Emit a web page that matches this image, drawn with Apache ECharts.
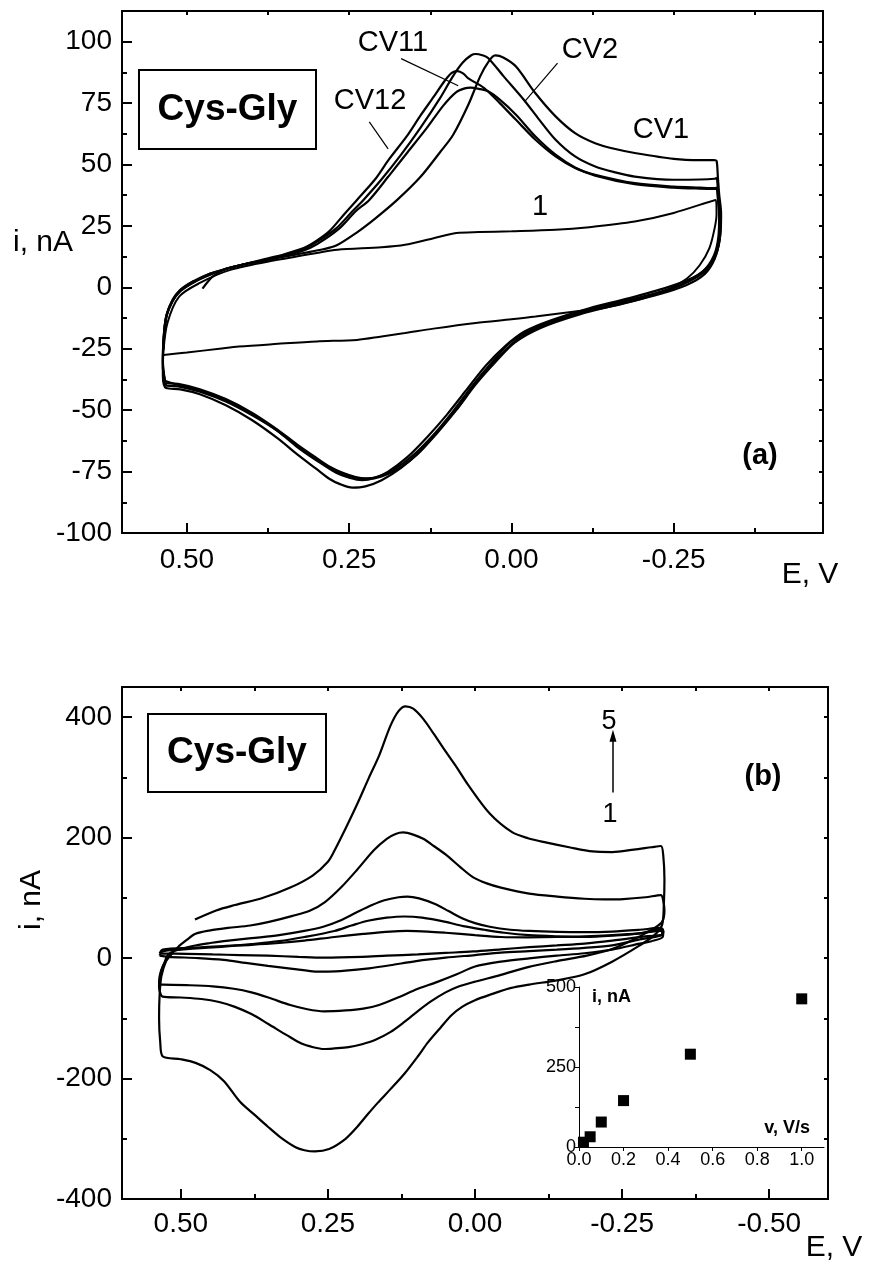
<!DOCTYPE html>
<html><head><meta charset="utf-8">
<script src="https://cdn.jsdelivr.net/npm/echarts@6/dist/echarts.min.js"></script>
<style>html,body{margin:0;padding:0;background:#fff}#c{width:873px;height:1266px}</style>
</head><body><div id="c"></div>
<script>
// ---------- Panel (a) data: [E (V), i (nA)] ----------
const cvA_blank = [[0.536,-27.5],[0.50,-26.5],[0.45,-25],[0.42,-24.1],[0.36,-23],[0.30,-22],[0.238,-21.4],[0.2,-20],[0.164,-18.6],[0.12,-16.8],[0.055,-14.5],[0.0,-13],[-0.037,-11.9],[-0.098,-9.8],[-0.14,-8.5],[-0.19,-5.5],[-0.24,-1],[-0.27,3.5],[-0.29,9],[-0.305,16],[-0.313,24],[-0.316,30],[-0.315,35.6],[-0.25,30.3],[-0.19,26.8],[-0.12,24.5],[-0.068,23.4],[0.0,22.8],[0.05,22.5],[0.085,22.1],[0.12,20],[0.164,17.3],[0.2,16.3],[0.268,15.3],[0.30,14],[0.36,11.2],[0.433,7.1],[0.48,1.8],[0.512,-3.8],[0.53,-14.5],[0.536,-25.5]];
const cvA_1 = [[0.476,-0.5],[0.46,4.5],[0.44,7.5],[0.41,9.5],[0.38,11],[0.35,12.5],[0.32,14],[0.29,15.5],[0.27,17],[0.24,22],[0.21,28],[0.176,35.6],[0.14,45],[0.11,55],[0.09,62],[0.067,74],[0.048,86],[0.035,92],[0.025,94.4],[0.012,93.5],[-0.007,89.9],[-0.037,79],[-0.068,69.6],[-0.098,62.8],[-0.129,58.7],[-0.16,56.3],[-0.19,54.7],[-0.25,52.3],[-0.29,51.8],[-0.312,51.8],[-0.316,51.5],[-0.318,45],[-0.32,38],[-0.323,30],[-0.322,22],[-0.316,14],[-0.30,7],[-0.27,2],[-0.23,-2],[-0.17,-6],[-0.11,-10],[-0.05,-15.5],[-0.01,-21],[0.02,-28.5],[0.05,-37],[0.08,-48],[0.11,-57.5],[0.14,-66.5],[0.17,-73.5],[0.20,-78.5],[0.225,-81],[0.245,-81.5],[0.265,-80],[0.28,-78],[0.30,-74],[0.33,-68],[0.36,-61.5],[0.40,-54],[0.44,-48],[0.48,-43.5],[0.51,-41.5],[0.532,-41],[0.537,-36],[0.537,-28],[0.535,-18],[0.531,-11],[0.522,-5],[0.51,-1],[0.49,2.5]];
const cvA_2 = [[0.532,-40],[0.537,-33],[0.536,-22],[0.532,-12],[0.522,-5.5],[0.51,-1.5],[0.49,2],[0.465,5.5],[0.44,7.5],[0.41,9.5],[0.38,11],[0.35,13],[0.32,15.5],[0.30,18.5],[0.27,24],[0.245,31],[0.228,35.6],[0.2,44],[0.17,54],[0.14,65],[0.11,77],[0.09,86],[0.075,91.5],[0.062,94.5],[0.055,95],[0.045,94.5],[0.036,93.4],[0.012,85.9],[-0.019,76.4],[-0.043,68.2],[-0.068,60.1],[-0.098,53.3],[-0.129,49.2],[-0.16,46.8],[-0.19,45.1],[-0.25,43.8],[-0.29,43.9],[-0.313,44.2],[-0.316,44.5],[-0.318,40],[-0.321,32],[-0.322,24],[-0.318,16],[-0.305,9],[-0.28,4],[-0.24,0],[-0.18,-4.5],[-0.12,-8.5],[-0.06,-13.5],[-0.02,-18],[0.01,-24],[0.04,-32],[0.07,-42],[0.10,-52],[0.13,-61],[0.16,-69],[0.19,-75],[0.21,-77.5],[0.23,-78.5],[0.25,-77.5],[0.27,-75.5],[0.30,-70.5],[0.33,-65],[0.36,-58.5],[0.40,-52],[0.44,-46.5],[0.48,-42.5],[0.51,-40.5],[0.532,-40]];
const cvA_11 = [[0.534,-38],[0.537,-30],[0.535,-20],[0.531,-11.5],[0.522,-5.5],[0.51,-1],[0.49,2.5],[0.465,5.5],[0.44,7.5],[0.41,9.5],[0.38,11],[0.35,12.8],[0.32,15],[0.30,17.5],[0.265,24],[0.24,31],[0.219,35.6],[0.19,45],[0.16,55],[0.13,65],[0.105,74],[0.085,79.5],[0.072,81],[0.063,81.3],[0.05,80.8],[0.036,79.8],[0.018,76.4],[-0.007,70.3],[-0.037,61.4],[-0.068,54],[-0.098,48.8],[-0.129,45.5],[-0.19,42],[-0.25,40.6],[-0.29,40.2],[-0.313,40.1],[-0.316,40.2],[-0.319,35],[-0.321,27],[-0.32,19],[-0.313,11.5],[-0.298,5.5],[-0.27,1],[-0.225,-3],[-0.165,-7],[-0.105,-11],[-0.045,-16.5],[-0.005,-22.5],[0.025,-30.5],[0.055,-39.5],[0.085,-50],[0.115,-59.5],[0.145,-68],[0.175,-74],[0.20,-77],[0.222,-78],[0.24,-77.5],[0.26,-76],[0.28,-73.5],[0.30,-70],[0.33,-64.5],[0.36,-58.5],[0.40,-51.5],[0.44,-46],[0.48,-42],[0.51,-40],[0.534,-38]];
const cvA_12 = [[0.533,-39],[0.537,-32],[0.536,-21],[0.532,-12],[0.523,-6],[0.51,-1.5],[0.49,2],[0.465,5],[0.44,7.5],[0.41,9.5],[0.38,11.5],[0.35,13.5],[0.32,16],[0.30,19],[0.28,23],[0.257,30],[0.238,35.6],[0.21,44],[0.189,52],[0.16,62],[0.14,70],[0.12,77.5],[0.103,84],[0.092,87.3],[0.083,88],[0.074,87],[0.067,85.2],[0.042,81.1],[0.018,75],[-0.007,68.2],[-0.037,60.1],[-0.068,53.3],[-0.098,48.6],[-0.129,45.8],[-0.19,42.4],[-0.25,41],[-0.29,40.6],[-0.313,40.4],[-0.316,40.5],[-0.318,36],[-0.32,29],[-0.319,21],[-0.312,13],[-0.295,6.5],[-0.265,1.5],[-0.22,-2.5],[-0.16,-6.5],[-0.10,-10.5],[-0.04,-16],[0.0,-22],[0.03,-30.5],[0.06,-40],[0.09,-50.5],[0.12,-60],[0.15,-68],[0.18,-74],[0.205,-77],[0.225,-77.8],[0.24,-77.2],[0.26,-75.5],[0.28,-73],[0.30,-69.5],[0.33,-64],[0.36,-58],[0.40,-51],[0.44,-45.5],[0.48,-41.5],[0.51,-39.5],[0.533,-39]];
// pointer lines for labels (data coords)
const ptrCV11 = [[0.170,93.1],[0.082,82.1]];
const ptrCV2 = [[-0.071,91.3],[-0.02,75.5]];
const ptrCV12 = [[0.219,67.4],[0.19,56.4]];

// ---------- Panel (b) data ----------
const cvB_5 = [[0.476,64],[0.44,79],[0.408,88],[0.36,100],[0.314,117],[0.276,137],[0.25,160],[0.239,178],[0.22,215],[0.201,254],[0.18,300],[0.163,336],[0.144,385],[0.13,410],[0.118,418],[0.105,414],[0.088,397],[0.07,372],[0.05,343],[0.03,315],[0.012,288],[-0.025,240],[-0.063,209],[-0.09,199],[-0.12,192],[-0.16,184],[-0.2,177],[-0.233,176],[-0.27,180],[-0.30,184],[-0.316,186],[-0.32,170],[-0.322,130],[-0.321,90],[-0.318,55],[-0.305,38],[-0.28,21],[-0.233,-6],[-0.186,-27],[-0.139,-37],[-0.092,-44],[-0.06,-50],[-0.025,-61],[0.0,-70],[0.022,-81],[0.04,-95],[0.059,-116],[0.08,-140],[0.097,-163],[0.12,-192],[0.144,-218],[0.165,-240],[0.182,-259],[0.2,-280],[0.22,-300],[0.248,-317],[0.272,-321],[0.29,-319],[0.305,-314],[0.33,-298],[0.352,-280],[0.375,-260],[0.399,-239],[0.427,-204],[0.45,-186],[0.475,-174],[0.5,-168],[0.531,-163],[0.535,-140],[0.537,-100],[0.536,-60],[0.533,-30],[0.525,-5],[0.515,8]];
const cvB_4 = [[0.537,-48],[0.536,-30],[0.53,-12],[0.52,2],[0.505,18],[0.49,30],[0.476,40],[0.45,46],[0.42,50],[0.382,54],[0.35,60],[0.31,70],[0.28,79],[0.255,93],[0.227,118],[0.2,147],[0.172,179],[0.15,198],[0.135,206],[0.122,208.5],[0.105,205],[0.088,198],[0.07,186],[0.05,172],[0.025,151],[0.003,134],[-0.02,124],[-0.044,117],[-0.092,107],[-0.14,102],[-0.186,98.5],[-0.22,97.5],[-0.252,98],[-0.29,101],[-0.316,104.5],[-0.32,95],[-0.322,78],[-0.318,60],[-0.305,50],[-0.28,36],[-0.233,15],[-0.19,4],[-0.139,-5],[-0.09,-15],[-0.044,-28],[0.003,-40],[0.03,-48],[0.05,-57],[0.075,-72],[0.097,-88],[0.12,-106],[0.144,-123],[0.17,-136],[0.192,-143],[0.215,-148],[0.239,-150],[0.257,-151],[0.275,-148],[0.295,-142],[0.32,-128],[0.352,-109],[0.38,-93],[0.408,-81],[0.435,-73],[0.465,-68],[0.5,-65.5],[0.531,-64],[0.536,-55],[0.537,-48]];
const cvB_3 = [[0.537,-44],[0.534,-25],[0.528,-8],[0.522,5],[0.51,12],[0.48,20],[0.45,25],[0.427,28],[0.38,33],[0.333,38],[0.29,45],[0.258,52],[0.23,62],[0.201,76],[0.175,88],[0.154,96],[0.13,101],[0.115,102],[0.095,99],[0.069,90],[0.045,78],[0.022,66],[0.0,58],[-0.025,52],[-0.06,47],[-0.092,45],[-0.14,43.5],[-0.186,43],[-0.233,44],[-0.28,47],[-0.316,50],[-0.32,44],[-0.319,35],[-0.30,28],[-0.28,24],[-0.233,14],[-0.186,8],[-0.139,4],[-0.092,-0.5],[-0.044,-6],[0.0,-14],[0.031,-27],[0.065,-40],[0.097,-51],[0.13,-65],[0.163,-78],[0.19,-84],[0.22,-87],[0.257,-88.5],[0.285,-85],[0.314,-78],[0.35,-66],[0.38,-57],[0.41,-51],[0.446,-47],[0.49,-45],[0.531,-44],[0.537,-44]];
const cvB_2 = [[0.536,4],[0.531,11],[0.5,14],[0.46,17],[0.427,19],[0.38,23],[0.333,28],[0.29,35],[0.239,45],[0.21,54],[0.182,62],[0.15,67],[0.12,69],[0.09,67],[0.05,60],[0.02,53],[-0.016,47],[-0.05,42],[-0.092,38],[-0.14,36],[-0.186,35],[-0.233,37],[-0.28,41],[-0.318,48],[-0.32,43],[-0.315,37],[-0.28,31],[-0.233,21],[-0.186,17],[-0.139,14],[-0.092,11.5],[-0.044,9],[0.0,5],[0.05,0.7],[0.1,-5],[0.144,-12],[0.18,-17],[0.22,-21],[0.25,-22.5],[0.276,-22],[0.31,-18],[0.352,-13],[0.39,-8],[0.427,-3],[0.47,0],[0.522,2],[0.536,4]];
const cvB_1 = [[0.536,8],[0.531,14],[0.48,17],[0.427,20],[0.38,22],[0.333,25],[0.29,29],[0.239,35],[0.19,40],[0.144,44],[0.116,45],[0.08,44],[0.05,42],[0.0,38],[-0.044,35],[-0.09,34.5],[-0.139,35],[-0.186,36],[-0.233,38],[-0.28,41],[-0.316,45],[-0.318,40],[-0.28,35],[-0.233,29],[-0.186,24],[-0.139,21],[-0.092,18],[-0.044,14.5],[0.003,11],[0.05,8.5],[0.097,6],[0.15,4],[0.192,2],[0.257,0.7],[0.3,2],[0.352,4],[0.4,5],[0.446,6],[0.49,7],[0.531,7.5],[0.536,8]];
const arrowB = [[-0.2345,275],[-0.2345,369]];

// ---------- Inset data ----------
const scanRates = [0.02,0.05,0.1,0.2,0.5,1.0];
const peakCurrents = [15,32,78,145,290,463];

// ---------- Tick values ----------
const xMajorA = [0.5,0.25,0,-0.25];
const xMinorA = [0.375,0.125,-0.125,-0.375];
const yMajorA = [-100,-75,-50,-25,0,25,50,75,100];
const yMinorA = [-87.5,-62.5,-37.5,-12.5,12.5,37.5,62.5,87.5];
const xMajorB = [0.5,0.25,0,-0.25,-0.5];
const xMinorB = [0.375,0.125,-0.125,-0.375];
const yMajorB = [-400,-200,0,200,400];
const yMinorB = [-300,-100,100,300];
const xInset = [0,0.2,0.4,0.6,0.8,1.0];
const yInset = [0,250,500];
const yInsetTicks = [0,125,250,375,500];

const FONT = '"Liberation Sans", Arial, Helvetica, sans-serif';
const chart = echarts.init(document.getElementById('c'), null, {renderer:'canvas'});

function fmt2(v){ return (Math.abs(v)<1e-9?0:v).toFixed(2); }
function axBase(grid, extra){
  return Object.assign({type:'value', gridIndex:grid, splitLine:{show:false},
    axisLine:{show:false,onZero:false}, axisLabel:{show:false}, axisTick:{show:false}}, extra);
}
function tk(vals,len){ return {show:true, inside:true, length:len, customValues:vals, lineStyle:{color:'#000',width:2}}; }
const lbl = (vals, fmt, margin) => ({show:true, customValues:vals, formatter:fmt, color:'#000', fontSize:28, fontFamily:FONT, margin:margin});

const allXA = xMajorA.concat(xMinorA), allYA = yMajorA.concat(yMinorA);
const allXB = xMajorB.concat(xMinorB), allYB = yMajorB.concat(yMinorB);

const xAxes = [
  axBase(0,{min:-0.48,max:0.6,inverse:true,position:'bottom',axisTick:tk(xMajorA,10),axisLabel:lbl(xMajorA,fmt2,13)}),
  axBase(0,{min:-0.48,max:0.6,inverse:true,position:'bottom',axisTick:tk(xMinorA,5)}),
  axBase(0,{min:-0.48,max:0.6,inverse:true,position:'top',axisTick:tk(allXA,4)}),
  axBase(1,{min:-0.6,max:0.6,inverse:true,position:'bottom',axisTick:tk(xMajorB,10),axisLabel:lbl(xMajorB,fmt2,11)}),
  axBase(1,{min:-0.6,max:0.6,inverse:true,position:'bottom',axisTick:tk(xMinorB,5)}),
  axBase(1,{min:-0.6,max:0.6,inverse:true,position:'top',axisTick:tk(allXB,4)}),
  axBase(2,{min:0,max:1.1,position:'bottom',axisLine:{show:true,onZero:false,lineStyle:{color:'#000',width:1}},
    axisTick:{show:true,inside:false,length:4,customValues:xInset,lineStyle:{color:'#000',width:1}},
    axisLabel:{show:true,customValues:xInset,formatter:v=>v.toFixed(1),color:'#000',fontSize:18,fontFamily:FONT,margin:4}})
];
const yAxes = [
  axBase(0,{min:-100,max:112.5,position:'left',axisTick:tk(yMajorA,10),axisLabel:lbl(yMajorA,v=>String(v),10)}),
  axBase(0,{min:-100,max:112.5,position:'left',axisTick:tk(yMinorA,5)}),
  axBase(0,{min:-100,max:112.5,position:'right',axisTick:tk(allYA,4)}),
  axBase(1,{min:-400,max:450,position:'left',axisTick:tk(yMajorB,10),axisLabel:lbl(yMajorB,v=>String(v),10)}),
  axBase(1,{min:-400,max:450,position:'left',axisTick:tk(yMinorB,5)}),
  axBase(1,{min:-400,max:450,position:'right',axisTick:tk(allYB,4)}),
  axBase(2,{min:0,max:500,position:'left',axisLine:{show:true,onZero:false,lineStyle:{color:'#000',width:1}},
    axisTick:{show:true,inside:false,length:4,customValues:yInsetTicks,lineStyle:{color:'#000',width:1}},
    axisLabel:{show:true,customValues:yInset,formatter:v=>String(v),color:'#000',fontSize:18,fontFamily:FONT,margin:3}})
];

function cv(data, xi, yi, w){
  return {type:'line', data:data, xAxisIndex:xi, yAxisIndex:yi, showSymbol:false, symbol:'none',
    smooth:0.3, lineStyle:{color:'#000', width:w||2.2}, silent:true, z:3};
}
const series = [
  cv(cvA_blank,0,0,2), cv(cvA_1,0,0), cv(cvA_2,0,0), cv(cvA_11,0,0), cv(cvA_12,0,0),
  cv(ptrCV11,0,0,1.2), cv(ptrCV2,0,0,1.2), cv(ptrCV12,0,0,1.2),
  cv(cvB_5,3,3), cv(cvB_4,3,3), cv(cvB_3,3,3), cv(cvB_2,3,3), cv(cvB_1,3,3),
  {type:'line', data:[], xAxisIndex:3, yAxisIndex:3, silent:true,
   markLine:{silent:true, symbol:['none','triangle'], symbolSize:[7,12], animation:false,
     label:{show:false}, lineStyle:{color:'#000',width:1.5,type:'solid'},
     data:[[{coord:arrowB[0]},{coord:arrowB[1]}]]}},
  {type:'scatter', data:scanRates.map((v,i)=>[v,peakCurrents[i]]), xAxisIndex:6, yAxisIndex:6,
   symbol:'rect', symbolSize:11, itemStyle:{color:'#000',opacity:1}, silent:true}
];

function txt(x,y,s,size,bold,align,rot){
  return {type:'text', x:x, y:y, rotation:rot||0, style:{text:s, fill:'#000', font:(bold?'bold ':'')+size+'px '+FONT,
    align:align||'center', verticalAlign:'middle'}, silent:true, z:10};
}
const graphic = [
  {type:'rect', shape:{x:139,y:70,width:177,height:79}, style:{fill:'#fff',stroke:'#000',lineWidth:2}, z:9},
  txt(227.5,109.5,'Cys-Gly',37,true),
  txt(393,43,'CV11',29), txt(590,50,'CV2',29), txt(370,101,'CV12',29), txt(661,130,'CV1',29), txt(540,207,'1',29),
  txt(760,456,'(a)',29,true),
  txt(43,243,'i, nA',30), txt(810,575,'E, V',30),
  {type:'rect', shape:{x:148,y:714,width:178,height:78}, style:{fill:'#fff',stroke:'#000',lineWidth:2}, z:9},
  txt(237,753,'Cys-Gly',37,true),
  txt(763,777,'(b)',29,true),
  txt(609,722,'5',27), txt(610,815,'1',27),
  txt(32,900,'i, nA',30,false,'center',Math.PI/2),
  txt(834,1248,'E, V',30),
  txt(592,997,'i, nA',18,true,'left'),
  txt(810,1128,'v, V/s',18,true,'right')
];

chart.setOption({
  animation:false,
  backgroundColor:'#fff',
  grid:[
    {left:122, top:11, width:701, height:522, show:true, borderColor:'#000', borderWidth:2, backgroundColor:'transparent'},
    {left:122, top:687, width:706, height:512, show:true, borderColor:'#000', borderWidth:2, backgroundColor:'transparent'},
    {left:579, top:987, width:245, height:160, show:false}
  ],
  xAxis:xAxes, yAxis:yAxes, series:series, graphic:graphic
});
</script></body></html>
